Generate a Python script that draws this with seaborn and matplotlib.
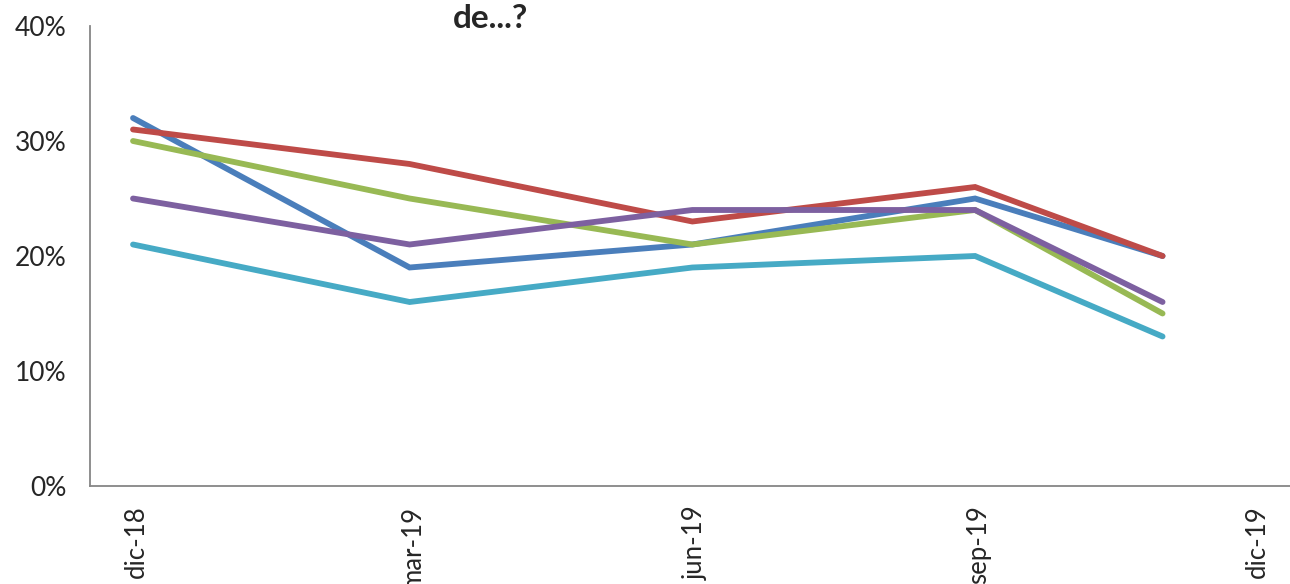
import matplotlib
matplotlib.use("Agg")
import matplotlib.pyplot as plt
import matplotlib.dates as mdates
from matplotlib.ticker import FuncFormatter
import seaborn as sns
import pandas as pd
import numpy as np

# ---- data ----
dates = ["2018-12-15", "2019-03-15", "2019-06-15", "2019-09-15", "2019-11-15"]
serie_1 = [32, 19, 21, 25, 20]   # blue
serie_2 = [31, 28, 23, 26, 20]   # red
serie_3 = [30, 25, 21, 24, 15]   # green
serie_4 = [25, 21, 24, 24, 16]   # purple
serie_5 = [21, 16, 19, 20, 13]   # cyan
series_names = ["Serie 1", "Serie 2", "Serie 3", "Serie 4", "Serie 5"]
tick_labels = ["dic-18", "mar-19", "jun-19", "sep-19", "dic-19"]
title_text = "de...?"

colors = ["#4A7EBB", "#BE4B48", "#98B954", "#7D60A0", "#46AAC5"]

rows = []
for name, vals in zip(series_names, [serie_1, serie_2, serie_3, serie_4, serie_5]):
    for d, v in zip(dates, vals):
        rows.append({"fecha": pd.Timestamp(d), "valor": v / 100.0, "serie": name})
df = pd.DataFrame(rows)

sns.set_style("white")
plt.rcParams["font.family"] = ["Lato", "DejaVu Sans"]

fig = plt.figure(figsize=(12.9, 5.84), dpi=100)
ax = fig.add_axes([90 / 1290, (584 - 486) / 584, 1217 / 1290, 460 / 584])

sns.lineplot(data=df, x="fecha", y="valor", hue="serie", palette=colors,
             linewidth=4.2, legend=False, ax=ax, sort=False)
for ln in ax.get_lines():
    ln.set_solid_capstyle("round")
    ln.set_solid_joinstyle("miter")

ax.set_xlim(mdates.date2num(pd.Timestamp("2018-12-01")), mdates.date2num(pd.Timestamp("2020-01-01")))
ax.set_ylim(0, 0.40)
ax.set_yticks([0, 0.1, 0.2, 0.3, 0.4])
ax.yaxis.set_major_formatter(FuncFormatter(lambda v, p: f"{v*100:.0f}%"))

major = [pd.Timestamp(d) for d in ["2018-12-01", "2019-03-01", "2019-06-01", "2019-09-01", "2019-12-01"]]
minor = [pd.Timestamp(d) for d in ["2018-12-16", "2019-03-16", "2019-06-16", "2019-09-16", "2019-12-16"]]
ax.set_xticks([mdates.date2num(d) for d in major])
ax.set_xticklabels([""] * len(major))
ax.set_xticks([mdates.date2num(d) for d in minor], minor=True)
ax.set_xticklabels(tick_labels, minor=True, rotation=90, fontsize=18.5)
ax.tick_params(axis="x", which="minor", length=0, pad=14)
ax.tick_params(axis="x", which="major", length=8, width=1.3, color="#868686", direction="out")
ax.tick_params(axis="y", length=7, width=1.3, color="#868686", direction="out", labelsize=19, pad=10)

ax.set_xlabel("")
ax.set_ylabel("")
for s in ["top", "right"]:
    ax.spines[s].set_visible(False)
for s in ["left", "bottom"]:
    ax.spines[s].set_color("#868686")
    ax.spines[s].set_linewidth(1.3)
ax.grid(False)

fig.text(491 / 1290, 1 - 19 / 584, title_text, ha="center", va="center",
         fontsize=24, fontweight="bold")

fig.savefig("out.png", dpi=100)
